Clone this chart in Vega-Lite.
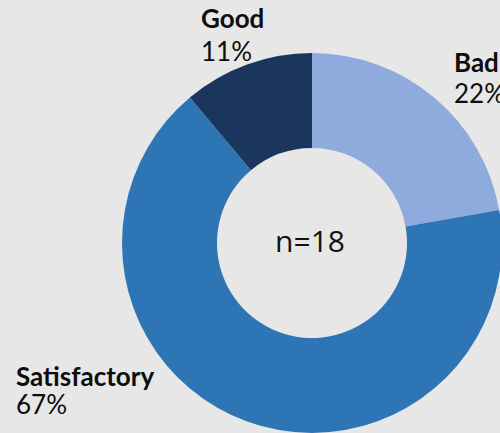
{
  "$schema": "https://vega.github.io/schema/vega-lite/v6.json",
  "width": 376,
  "height": 380,
  "padding": {"left": 124, "top": 53, "right": 0, "bottom": 0},
  "autosize": {"type": "none"},
  "background": "#e7e7e7",
  "config": {"view": {"stroke": null}},
  "data": {
    "values": [
      {"category": "Bad", "count": 4, "pct": "22%", "order": 1},
      {"category": "Satisfactory", "count": 12, "pct": "67%", "order": 2},
      {"category": "Good", "count": 2, "pct": "11%", "order": 3}
    ]
  },
  "layer": [
    {
      "mark": {"type": "arc", "innerRadius": 95, "outerRadius": 190},
      "encoding": {
        "theta": {"field": "count", "type": "quantitative", "stack": true},
        "order": {"field": "order", "type": "quantitative"},
        "color": {
          "field": "category",
          "type": "nominal",
          "scale": {"domain": ["Bad", "Satisfactory", "Good"], "range": ["#8faadc", "#2e75b6", "#1a365d"]},
          "legend": null
        }
      }
    },
    {
      "transform": [{"filter": "datum.category === 'Good'"}],
      "mark": {"type": "text", "align": "left", "baseline": "alphabetic", "dx": -111, "dy": -215, "font": "Lato", "fontWeight": "bold", "fontSize": 26, "color": "#0d0d0d"},
      "encoding": {"text": {"field": "category"}}
    },
    {
      "transform": [{"filter": "datum.category === 'Good'"}],
      "mark": {"type": "text", "align": "left", "baseline": "alphabetic", "dx": -111, "dy": -182, "font": "Lato", "fontSize": 26, "color": "#0d0d0d"},
      "encoding": {"text": {"field": "pct"}}
    },
    {
      "transform": [{"filter": "datum.category === 'Bad'"}],
      "mark": {"type": "text", "align": "left", "baseline": "alphabetic", "dx": 142, "dy": -171, "font": "Lato", "fontWeight": "bold", "fontSize": 26, "color": "#0d0d0d"},
      "encoding": {"text": {"field": "category"}}
    },
    {
      "transform": [{"filter": "datum.category === 'Bad'"}],
      "mark": {"type": "text", "align": "left", "baseline": "alphabetic", "dx": 142, "dy": -140, "font": "Lato", "fontSize": 26, "color": "#0d0d0d"},
      "encoding": {"text": {"field": "pct"}}
    },
    {
      "transform": [{"filter": "datum.category === 'Satisfactory'"}],
      "mark": {"type": "text", "align": "left", "baseline": "alphabetic", "dx": -296, "dy": 143, "font": "Lato", "fontWeight": "bold", "fontSize": 26, "color": "#0d0d0d"},
      "encoding": {"text": {"field": "category"}}
    },
    {
      "transform": [{"filter": "datum.category === 'Satisfactory'"}],
      "mark": {"type": "text", "align": "left", "baseline": "alphabetic", "dx": -296, "dy": 171, "font": "Lato", "fontSize": 26, "color": "#0d0d0d"},
      "encoding": {"text": {"field": "pct"}}
    },
    {
      "transform": [
        {"aggregate": [{"op": "sum", "field": "count", "as": "total"}]},
        {"calculate": "'n=' + datum.total", "as": "label"}
      ],
      "mark": {"type": "text", "align": "center", "baseline": "alphabetic", "dx": -2, "dy": 9, "font": "Open Sans", "fontSize": 30, "color": "#111111"},
      "encoding": {"text": {"field": "label"}}
    }
  ]
}
